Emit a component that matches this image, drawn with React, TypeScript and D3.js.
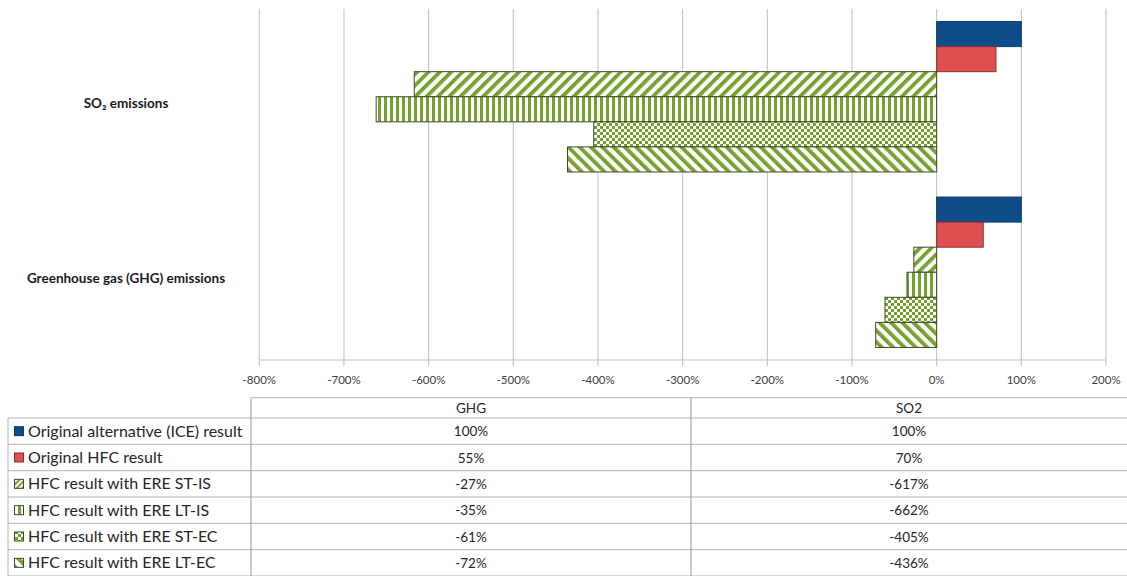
import React from "react";
import * as d3 from "d3";

const categories = ["SO2", "GHG"];
const categoryLabels = ["SO₂ emissions", "Greenhouse gas (GHG) emissions"];
const seriesNames = [
  "Original alternative (ICE) result",
  "Original HFC result",
  "HFC result with ERE ST-IS",
  "HFC result with ERE LT-IS",
  "HFC result with ERE ST-EC",
  "HFC result with ERE LT-EC",
];
const ghgValues = [100, 55, -27, -35, -61, -72];
const so2Values = [100, 70, -617, -662, -405, -436];
const xTicks = [-800, -700, -600, -500, -400, -300, -200, -100, 0, 100, 200];

const W = 1127;
const H = 576;
const GREEN = "#76a12f";

const fills = [
  "#0f4c8a",
  "#e04f4f",
  "url(#pStIs)",
  "url(#pLtIs)",
  "url(#pStEc)",
  "url(#pLtEc)",
];
const strokes = ["#0b3d70", "#8c2b2b", "#3d4a2a", "#3d4a2a", "#3d4a2a", "#3d4a2a"];

export default function App() {
  const x = d3.scaleLinear().domain([-800, 200]).range([259.3, 1106]);
  const y = d3.scaleBand<string>().domain(categories).range([9, 360]).paddingInner(0).paddingOuter(0);
  const ys = d3
    .scaleBand<number>()
    .domain(d3.range(seriesNames.length))
    .range([0, y.bandwidth()])
    .paddingInner(0)
    .paddingOuter(0.5);

  const valuesByCat: Record<string, number[]> = { SO2: so2Values, GHG: ghgValues };
  const fmt = (v: number) => `${v}%`;

  const tableTop = 397.7;
  const headerBottom = 418;
  const rowH = (576 - headerBottom) / 6;
  const legendLeft = 8;
  const col1 = 251;
  const col2 = 691;
  const col3 = 1127;
  const font = "Lato, 'Open Sans', sans-serif";

  return (
    <svg width={W} height={H} style={{ position: "absolute", left: 0, top: 0, background: "#fff" }}>
      <defs>
        <pattern id="pStIs" patternUnits="userSpaceOnUse" width="8" height="8" patternTransform="rotate(45)">
          <rect width="8" height="8" fill="#fff" />
          <rect width="3.8" height="8" fill={GREEN} />
        </pattern>
        <pattern id="pLtEc" patternUnits="userSpaceOnUse" width="8" height="8" patternTransform="rotate(-45)">
          <rect width="8" height="8" fill="#fff" />
          <rect width="3.8" height="8" fill={GREEN} />
        </pattern>
        <pattern id="pLtIs" patternUnits="userSpaceOnUse" width="6" height="6">
          <rect width="6" height="6" fill="#fff" />
          <rect width="3" height="6" fill={GREEN} />
        </pattern>
        <pattern id="pStEc" patternUnits="userSpaceOnUse" width="6" height="6">
          <rect width="6" height="6" fill="#fff" />
          <rect width="3" height="3" fill={GREEN} />
          <rect x="3" y="3" width="3" height="3" fill={GREEN} />
        </pattern>
        <pattern id="iStIs" patternUnits="userSpaceOnUse" width="4" height="4" patternTransform="rotate(45)">
          <rect width="4" height="4" fill="#fff" />
          <rect width="2" height="4" fill={GREEN} />
        </pattern>
      </defs>

      {/* gridlines */}
      {xTicks.map((t) => (
        <line key={t} x1={x(t)} x2={x(t)} y1={9} y2={366} stroke="#bfbfbf" strokeWidth={1} />
      ))}
      {/* axis */}
      <line x1={x(-800)} x2={x(200)} y1={360} y2={360} stroke="#bfbfbf" />
      {xTicks.map((t) => (
        <text
          key={"l" + t}
          x={x(t)}
          y={384}
          textAnchor="middle"
          fontFamily={font}
          fontSize={11.5}
          fill="#404040"
        >
          {fmt(t)}
        </text>
      ))}

      {/* bars */}
      {categories.map((c) =>
        valuesByCat[c].map((v, i) => (
          <rect
            key={c + i}
            x={x(Math.min(0, v))}
            width={Math.abs(x(v) - x(0))}
            y={(y(c) as number) + (ys(i) as number)}
            height={ys.bandwidth()}
            fill={fills[i]}
            stroke={strokes[i]}
            strokeWidth={1}
          />
        ))
      )}

      {/* category labels */}
      {categories.map((c, i) => (
        <text
          key={"c" + c}
          x={126}
          y={(y(c) as number) + y.bandwidth() / 2 + 11}
          textAnchor="middle"
          fontFamily={font}
          fontSize={13.5}
          fontWeight="bold"
          fill="#1a1a1a"
        >
          {categoryLabels[i]}
        </text>
      ))}

      {/* table */}
      <g stroke="#b3b3b3" strokeWidth={1}>
        <line x1={col1} x2={col3} y1={tableTop} y2={tableTop} />
        {d3.range(7).map((r) => (
          <line key={"h" + r} x1={legendLeft} x2={col3} y1={headerBottom + r * rowH} y2={headerBottom + r * rowH} />
        ))}
        <line x1={legendLeft} x2={legendLeft} y1={headerBottom} y2={576} />
        <line x1={col1} x2={col1} y1={tableTop} y2={576} stroke="#999" />
        <line x1={col2} x2={col2} y1={tableTop} y2={576} stroke="#999" />
      </g>
      <text x={(col1 + col2) / 2} y={413} textAnchor="middle" fontFamily={font} fontSize={13.5} fill="#262626">
        GHG
      </text>
      <text x={(col2 + col3) / 2} y={413} textAnchor="middle" fontFamily={font} fontSize={13.5} fill="#262626">
        SO2
      </text>
      {seriesNames.map((s, i) => {
        const cy = headerBottom + i * rowH + rowH / 2;
        return (
          <g key={"r" + i}>
            <rect
              x={14.5}
              y={cy - 4.5}
              width={9}
              height={9}
              fill={i === 2 ? "url(#iStIs)" : fills[i]}
              stroke={strokes[i]}
            />
            <text x={28} y={cy + 5.5} fontFamily={font} fontSize={16} fill="#262626">
              {s}
            </text>
            <text x={(col1 + col2) / 2} y={cy + 5} textAnchor="middle" fontFamily={font} fontSize={13.5} fill="#262626">
              {fmt(ghgValues[i])}
            </text>
            <text x={(col2 + col3) / 2} y={cy + 5} textAnchor="middle" fontFamily={font} fontSize={13.5} fill="#262626">
              {fmt(so2Values[i])}
            </text>
          </g>
        );
      })}
    </svg>
  );
}
